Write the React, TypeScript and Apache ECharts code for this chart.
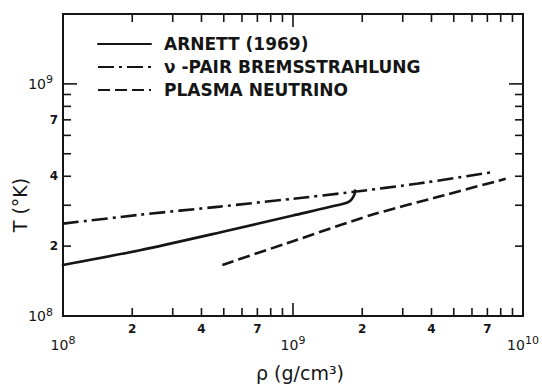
import React, { useEffect, useRef } from 'react';
import * as echarts from 'echarts';

const FONT = 'DejaVu Sans';
const INK = '#151515';

const X_MIN = 1e8;
const X_MAX = 1e10;
const Y_MIN = 1e8;
const Y_MAX = 2e9;

const seriesNames = ['ARNETT (1969)', 'ν -PAIR BREMSSTRAHLUNG', 'PLASMA NEUTRINO'];

// density rho (g/cm^3) and temperature T (K)
const arnettRho = [1e8, 2.16e8, 4.8e8, 1.0e9, 1.67e9, 1.76e9, 1.81e9, 1.85e9, 1.86e9];
const arnettT = [1.66e8, 1.92e8, 2.29e8, 2.71e8, 3.05e8, 3.12e8, 3.21e8, 3.34e8, 3.47e8];

const pairRho = [1e8, 2.16e8, 4.8e8, 1.0e9, 1.81e9, 3.5e9, 7.31e9];
const pairT = [2.5e8, 2.73e8, 2.96e8, 3.2e8, 3.42e8, 3.72e8, 4.16e8];

const plasmaRho = [4.93e8, 1.0e9, 2.15e9, 4.32e9, 8.41e9];
const plasmaT = [1.66e8, 2.1e8, 2.71e8, 3.27e8, 3.9e8];

const xTickValues = [2e8, 3e8, 4e8, 5e8, 6e8, 7e8, 8e8, 9e8, 1e9, 2e9, 3e9, 4e9, 5e9, 6e9, 7e9, 8e9, 9e9];
const yTickValues = [2e8, 3e8, 4e8, 5e8, 6e8, 7e8, 8e8, 9e8, 1e9];
const xLabelValues = [2e8, 4e8, 7e8, 2e9, 4e9, 7e9];
const xLabelTexts = ['2', '4', '7', '2', '4', '7'];
const yLabelValues = [2e8, 4e8, 7e8];
const yLabelTexts = ['2', '4', '7'];

const isDecade = (v: number) => Math.abs(Math.log10(v) - Math.round(Math.log10(v))) < 1e-6;

const pairs = (a: number[], b: number[]) => a.map((v, i) => [v, b[i]]);

const decadeFormatter = (v: number) => {
  if (!isDecade(v)) return '';
  const e = Math.round(Math.log10(v));
  return '{b|10}{s|' + e + '}';
};

const richSup = {
  b: { fontSize: 14, fontFamily: FONT, color: INK },
  s: { fontSize: 11, fontFamily: FONT, color: INK, padding: [0, 0, 8, 0] },
};

export default function App() {
  const ref = useRef<HTMLDivElement>(null);
  useEffect(() => {
    if (!ref.current) return;
    const chart = echarts.init(ref.current, null, { renderer: 'svg' });
    const lineBase = { type: 'line', showSymbol: false, symbol: 'none', z: 3 };
    const tickStyle = { stroke: INK, lineWidth: 1.6 };
    chart.setOption({
      animation: false,
      backgroundColor: '#ffffff',
      grid: {
        left: 63, right: 19, top: 14, bottom: 70,
        containLabel: false,
        outerBoundsMode: 'none',
        show: true, borderColor: INK, borderWidth: 2, backgroundColor: 'transparent',
      },
      legend: {
        data: seriesNames,
        orient: 'vertical',
        left: 97,
        top: 34,
        padding: 0,
        itemWidth: 53,
        itemHeight: 14,
        itemGap: 3,
        selectedMode: false,
        itemStyle: { opacity: 0 },
        textStyle: { fontFamily: FONT, fontSize: 17, fontWeight: 'bold', color: INK, lineHeight: 20, padding: [0, 0, 0, 8] },
      },
      xAxis: {
        type: 'log',
        logBase: 10,
        min: X_MIN,
        max: X_MAX,
        axisLine: { show: false },
        axisTick: { show: false },
        splitLine: { show: false },
        axisLabel: {
          margin: 19,
          showMinLabel: true,
          showMaxLabel: true,
          formatter: decadeFormatter,
          rich: richSup,
        },
        name: 'ρ (g/cm³)',
        nameLocation: 'middle',
        nameGap: 47,
        nameMoveOverlap: false,
        nameTextStyle: { fontFamily: FONT, fontSize: 19, color: INK, padding: [0, 0, 0, 14] },
      },
      yAxis: {
        type: 'log',
        logBase: 10,
        min: Y_MIN,
        max: Y_MAX,
        axisLine: { show: false },
        axisTick: { show: false },
        splitLine: { show: false },
        axisLabel: {
          margin: 10,
          showMinLabel: true,
          showMaxLabel: false,
          formatter: decadeFormatter,
          rich: richSup,
        },
        name: 'T (°K)',
        nameLocation: 'middle',
        nameGap: 34,
        nameMoveOverlap: false,
        nameTextStyle: { fontFamily: FONT, fontSize: 19, color: INK, padding: [0, 80, 0, 0] },
      },
      series: [
        {
          ...lineBase,
          name: seriesNames[0],
          smooth: 0.25,
          data: pairs(arnettRho, arnettT),
          lineStyle: { color: INK, width: 2.6, type: 'solid', cap: 'round', join: 'round' },
          itemStyle: { color: INK },
        },
        {
          ...lineBase,
          name: seriesNames[1],
          smooth: 0.2,
          data: pairs(pairRho, pairT),
          lineStyle: { color: INK, width: 2.6, type: [16, 5, 3, 5] },
          itemStyle: { color: INK },
        },
        {
          ...lineBase,
          name: seriesNames[2],
          smooth: 0.2,
          data: pairs(plasmaRho, plasmaT),
          lineStyle: { color: INK, width: 2.6, type: [12, 5] },
          itemStyle: { color: INK },
        },
        {
          type: 'custom',
          name: 'xticks',
          silent: true,
          clip: false,
          z: 5,
          data: xTickValues.map((v) => [v, Y_MIN]),
          renderItem: (params: any, api: any) => {
            const v = api.value(0);
            const b = api.coord([v, Y_MIN]);
            const t = api.coord([v, Y_MAX]);
            const len = isDecade(v) ? 13 : 8;
            return {
              type: 'group',
              children: [
                { type: 'line', shape: { x1: b[0], y1: b[1], x2: b[0], y2: b[1] - len }, style: tickStyle },
                { type: 'line', shape: { x1: t[0], y1: t[1], x2: t[0], y2: t[1] + len }, style: tickStyle },
              ],
            };
          },
        },
        {
          type: 'custom',
          name: 'yticks',
          silent: true,
          clip: false,
          z: 5,
          data: yTickValues.map((v) => [X_MIN, v]),
          renderItem: (params: any, api: any) => {
            const v = api.value(1);
            const l = api.coord([X_MIN, v]);
            const r = api.coord([X_MAX, v]);
            const len = isDecade(v) ? 14 : 8;
            return {
              type: 'group',
              children: [
                { type: 'line', shape: { x1: l[0], y1: l[1], x2: l[0] + len, y2: l[1] }, style: tickStyle },
                { type: 'line', shape: { x1: r[0], y1: r[1], x2: r[0] - len, y2: r[1] }, style: tickStyle },
              ],
            };
          },
        },
        {
          type: 'custom',
          name: 'xlabels',
          silent: true,
          clip: false,
          z: 5,
          data: xLabelValues.map((v) => [v, Y_MIN]),
          renderItem: (params: any, api: any) => {
            const b = api.coord([api.value(0), Y_MIN]);
            return {
              type: 'text',
              x: b[0],
              y: b[1] + 7,
              style: {
                text: xLabelTexts[params.dataIndex],
                fill: INK,
                fontFamily: FONT,
                fontSize: 12,
                fontWeight: 'bold',
                align: 'center',
                verticalAlign: 'top',
              },
            };
          },
        },
        {
          type: 'custom',
          name: 'ylabels',
          silent: true,
          clip: false,
          z: 5,
          data: yLabelValues.map((v) => [X_MIN, v]),
          renderItem: (params: any, api: any) => {
            const l = api.coord([X_MIN, api.value(1)]);
            return {
              type: 'text',
              x: l[0] - 5,
              y: l[1],
              style: {
                text: yLabelTexts[params.dataIndex],
                fill: INK,
                fontFamily: FONT,
                fontSize: 12,
                fontWeight: 'bold',
                align: 'right',
                verticalAlign: 'middle',
              },
            };
          },
        },
      ],
    });
    return () => chart.dispose();
  }, []);
  return (
    <div
      ref={ref}
      style={{ position: 'fixed', left: 0, top: 0, width: 542, height: 386, background: '#fff' }}
    />
  );
}
